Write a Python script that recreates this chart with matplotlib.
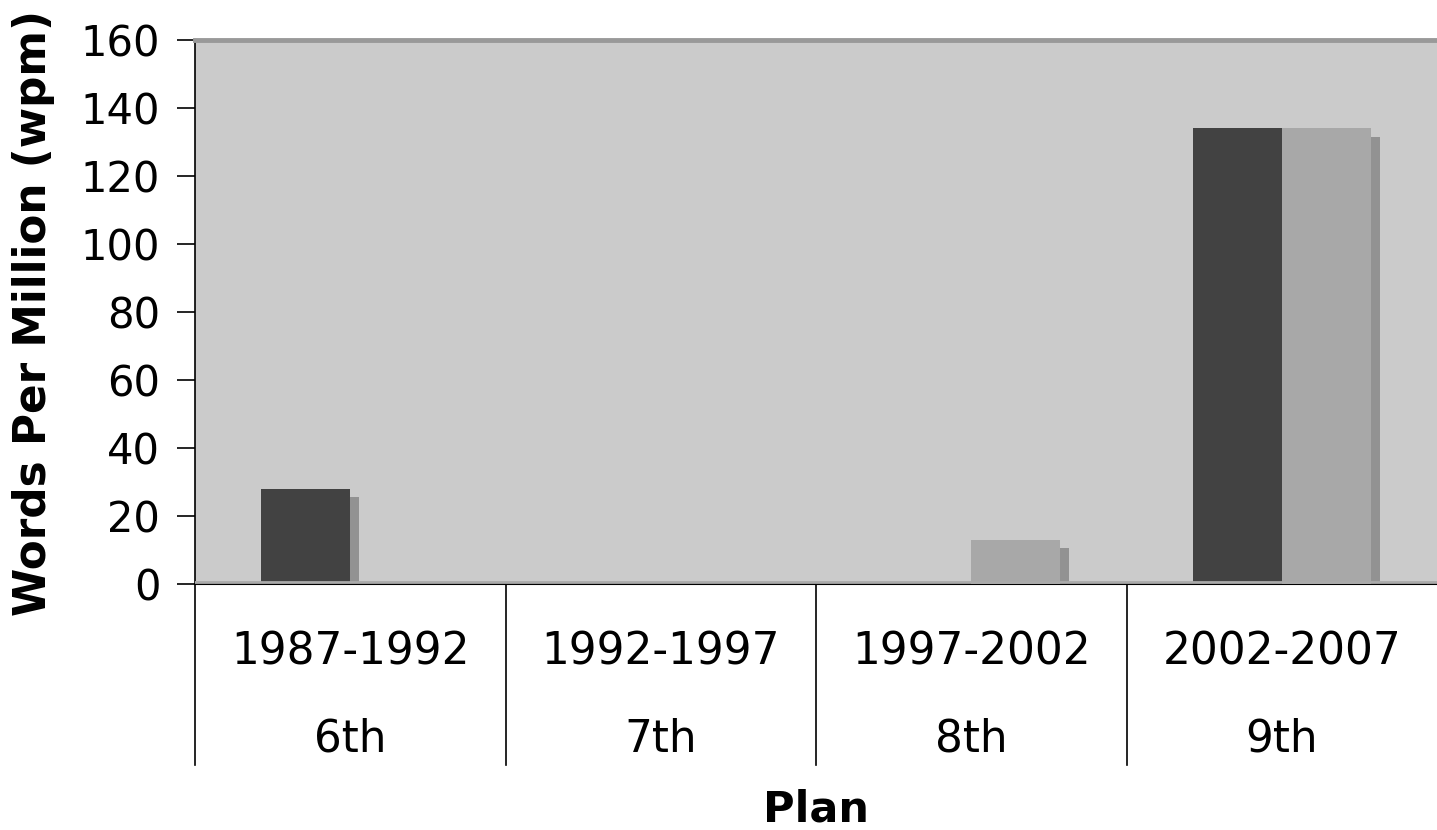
import matplotlib.pyplot as plt
import matplotlib.transforms as mtransforms
import numpy as np

# data
periodi = ['1987-1992', '1992-1997', '1997-2002', '2002-2007']
piani = ['6th', '7th', '8th', '9th']
serie_scura = [28, 0, 0, 134]
serie_chiara = [0, 0, 13, 134]

fig = plt.figure(figsize=(14.37, 8.3), dpi=100)
ax = fig.add_axes([0.1357, 0.2964, 0.8643, 0.6554])
ax.set_facecolor('#cbcbcb')

x = np.arange(len(periodi))
w = 0.287
dx = 0.029   # shadow offset (x)
dy = 2.4     # shadow offset (y)

ombra_scura = [max(v - dy, 0) if v > 0 else 0 for v in serie_scura]
ombra_chiara = [max(v - dy, 0) if v > 0 else 0 for v in serie_chiara]
ax.bar(x - w / 2 + dx, ombra_scura, width=w, color='#929292', zorder=1)
ax.bar(x + w / 2 + dx, ombra_chiara, width=w, color='#929292', zorder=1)
ax.bar(x - w / 2, serie_scura, width=w, color='#424242', zorder=2)
ax.bar(x + w / 2, serie_chiara, width=w, color='#a8a8a8', zorder=3)

ax.set_xlim(-0.5, 3.5)
ax.set_ylim(0, 160)
ax.set_yticks(range(0, 161, 20))
ax.tick_params(axis='y', length=13, width=1.2, direction='out', labelsize=30, pad=12)
ax.set_xticks([])

ax.spines['top'].set_color('#999999')
ax.spines['top'].set_linewidth(3.5)
ax.spines['right'].set_visible(False)
ax.spines['left'].set_color('black')
ax.spines['left'].set_linewidth(1.2)
ax.spines['bottom'].set_color('black')
ax.spines['bottom'].set_linewidth(1.5)
ax.axhline(0.6, color='#aaaaaa', lw=2, zorder=4)

# two-level category axis
trans = mtransforms.blended_transform_factory(ax.transData, ax.transAxes)
for b in [-0.5, 0.5, 1.5, 2.5]:
    ax.plot([b, b], [0, -0.333], color='black', lw=1.2, transform=trans, clip_on=False)
for i in range(len(periodi)):
    ax.text(x[i], -0.125, periodi[i], transform=trans, ha='center', va='center', fontsize=31.5)
    ax.text(x[i], -0.285, piani[i], transform=trans, ha='center', va='center', fontsize=31.5)

ax.text(0.5, -0.415, 'Plan', transform=ax.transAxes, ha='center', va='center',
        fontsize=31, fontweight='bold')
fig.text(0.023, 0.623, 'Words Per Million (wpm)', rotation=90, ha='center', va='center',
         fontsize=31.5, fontweight='bold')

fig.savefig('out.png', dpi=100)
